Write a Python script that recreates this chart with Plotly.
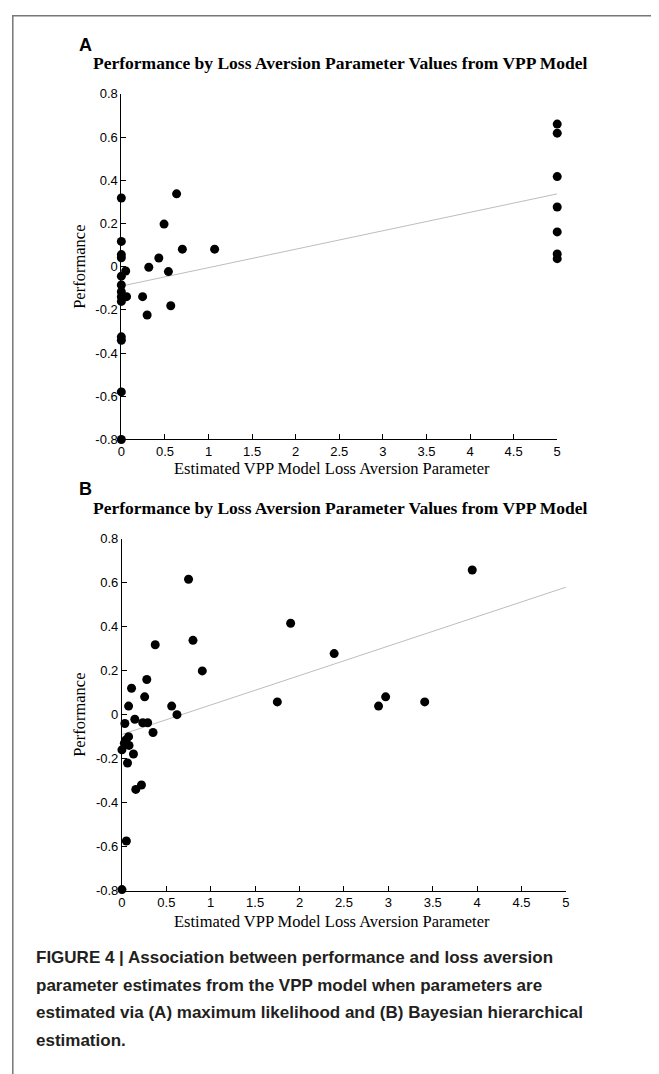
import plotly.graph_objects as go

# page is 659x1074; the html body has an 8px default margin
OFF = 8
W, H = 659 - OFF, 1074 - OFF

# ---------------- data ----------------
# Panel A: maximum likelihood estimates
a_x = [0.0, 0.0, 0.0, 0.0, 0.05, 0.0, 0.0, 0.0, 0.0, 0.06, 0.0, 0.0, 0.0, 0.0, 0.0,
       0.634, 0.49, 0.70, 1.07, 0.43, 0.315, 0.54, 0.244, 0.567, 0.296,
       5.0, 5.0, 5.0, 5.0, 5.0, 5.0, 5.0]
a_y = [0.318, 0.117, 0.056, 0.041, -0.02, -0.044, -0.085, -0.116, -0.139, -0.139, -0.161,
       -0.325, -0.341, -0.58, -0.80,
       0.337, 0.197, 0.081, 0.081, 0.04, -0.003, -0.023, -0.139, -0.181, -0.224,
       0.66, 0.618, 0.417, 0.276, 0.161, 0.059, 0.037]

# Panel B: Bayesian hierarchical estimates
b_x = [0.75, 1.90, 0.80, 0.375, 2.39, 0.905, 0.28, 0.108, 0.256, 0.075, 0.56, 1.75, 0.62,
       0.033, 0.145, 0.234, 0.29, 0.35, 0.075, 0.045, 0.027, 0.08, 0.0, 0.13, 0.063,
       0.22, 0.156, 0.05, 0.0, 3.945, 2.97, 2.89, 3.41]
b_y = [0.616, 0.416, 0.338, 0.318, 0.278, 0.199, 0.16, 0.12, 0.081, 0.039, 0.039, 0.058, 0.0,
       -0.04, -0.021, -0.037, -0.037, -0.081, -0.10, -0.115, -0.13, -0.14, -0.16, -0.179, -0.22,
       -0.32, -0.34, -0.575, -0.796, 0.658, 0.081, 0.039, 0.058]

# regression lines
fit_x = [0, 5]
fit_a_y = [-0.09, 0.337]
fit_b_y = [-0.09, 0.58]

x_ticks = [0, 0.5, 1, 1.5, 2, 2.5, 3, 3.5, 4, 4.5, 5]
x_ticktext = ["0", "0.5", "1", "1.5", "2", "2.5", "3", "3.5", "4", "4.5", "5"]
y_ticks = [-0.8, -0.6, -0.4, -0.2, 0, 0.2, 0.4, 0.6, 0.8]
y_ticktext = ["-0.8", "-0.6", "-0.4", "-0.2", "0", "0.2", "0.4", "0.6", "0.8"]

title_text = "Performance by Loss Aversion Parameter Values from VPP Model"
xlabel = "Estimated VPP Model Loss Aversion Parameter"
ylabel = "Performance"
caption_lines = [
    "FIGURE 4 | Association between performance and loss aversion",
    "parameter estimates from the VPP model when parameters are",
    "estimated via (A) maximum likelihood and (B) Bayesian hierarchical",
    "estimation.",
]

# ---------------- layout helpers (page pixel -> paper) ----------------
def px(x):
    return (x - OFF) / W

def py(y):
    return 1 - (y - OFF) / H

fig = go.Figure()

for xs, ys, fy, ax in [(a_x, a_y, fit_a_y, ""), (b_x, b_y, fit_b_y, "2")]:
    fig.add_trace(go.Scatter(x=fit_x, y=fy, mode="lines",
                             line=dict(color="#bdbdbd", width=1),
                             xaxis="x" + ax, yaxis="y" + ax, showlegend=False,
                             hoverinfo="skip"))
    fig.add_trace(go.Scatter(x=xs, y=ys, mode="markers",
                             marker=dict(color="black", size=9, line=dict(width=0)),
                             xaxis="x" + ax, yaxis="y" + ax, showlegend=False,
                             cliponaxis=False))

tickfont = dict(family="Liberation Sans, Arial, sans-serif", size=13, color="black")
axis_common = dict(showgrid=False, zeroline=False, showline=True, linecolor="black",
                   linewidth=1, ticks="inside", ticklen=5, tickcolor="black",
                   tickfont=tickfont)

A_dom_x = [px(118.7), px(560)]
A_dom_y = [py(438.5), py(88)]
B_dom_x = [px(119.3), px(568.8)]
B_dom_y = [py(896), py(539.3)]

fig.update_layout(
    width=W, height=H,
    margin=dict(l=0, r=0, t=0, b=0),
    paper_bgcolor="white", plot_bgcolor="white",
    xaxis=dict(domain=A_dom_x, range=[0, 5], tickvals=x_ticks, ticktext=x_ticktext,
               anchor="y", **axis_common),
    yaxis=dict(domain=A_dom_y, range=[-0.8, 0.8], tickvals=y_ticks, ticktext=y_ticktext,
               anchor="x", **axis_common),
    xaxis2=dict(domain=B_dom_x, range=[0, 5], tickvals=x_ticks, ticktext=x_ticktext,
                anchor="y2", **axis_common),
    yaxis2=dict(domain=B_dom_y, range=[-0.8, 0.8], tickvals=y_ticks, ticktext=y_ticktext,
                anchor="x2", **axis_common),
)

ann = []
serif_bold = dict(family="Liberation Serif, Times New Roman, serif", size=17.5, color="black")
serif = dict(family="Liberation Serif, Times New Roman, serif", size=16.5, color="black")
letter_font = dict(family="Liberation Sans, Arial, sans-serif", size=18, color="black")

for letter, y_letter, y_title, y_xlab, dom_y in [
        ("A", 38, 57, 468, (88 + 438.5) / 2),
        ("B", 489, 508, 927, (539.3 + 896) / 2)]:
    ann.append(dict(text="<b>" + letter + "</b>", x=px(74), y=py(y_letter), xref="paper",
                    yref="paper", xanchor="left", yanchor="middle", showarrow=False,
                    font=letter_font))
    ann.append(dict(text="<b>" + title_text + "</b>", x=px(88), y=py(y_title), xref="paper",
                    yref="paper", xanchor="left", yanchor="middle", showarrow=False,
                    font=serif_bold))
    ann.append(dict(text=xlabel, x=px(332), y=py(y_xlab), xref="paper", yref="paper",
                    xanchor="center", yanchor="middle", showarrow=False, font=serif))
    ann.append(dict(text=ylabel, x=px(76), y=py(dom_y), xref="paper", yref="paper",
                    xanchor="center", yanchor="middle", showarrow=False, font=serif,
                    textangle=-90))

cap_font = dict(family="Liberation Sans Narrow, Arial Narrow, Liberation Sans, sans-serif",
                size=17, color="#231f20")
for i, line in enumerate(caption_lines):
    ann.append(dict(text="<b>" + line + "</b>", x=px(30), y=py(964 + 28 * i), xref="paper",
                    yref="paper", xanchor="left", yanchor="middle", showarrow=False,
                    font=cap_font))

fig.update_layout(annotations=ann)

fig.add_shape(type="rect", xref="paper", yref="paper",
              x0=0.8 / W, x1=1.02, y0=-0.02, y1=1 - 0.8 / H,
              line=dict(color="#777777", width=1.5), fillcolor="rgba(0,0,0,0)")

fig.write_html("out.html")
